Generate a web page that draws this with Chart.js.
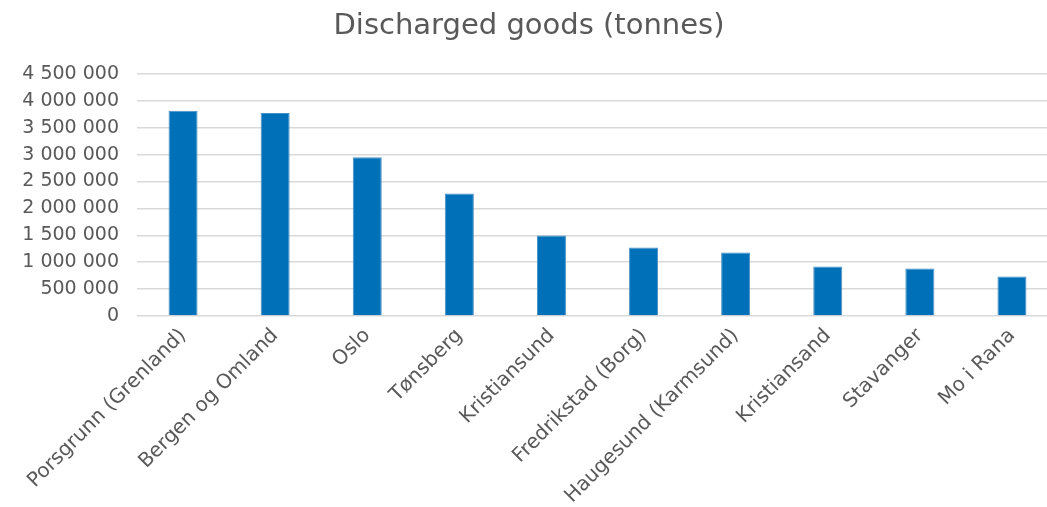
<!DOCTYPE html>
<html lang="en">
<head>
  <meta charset="UTF-8">
  <title>Discharged goods</title>
  <style>
    html, body { margin: 0; padding: 0; background: #fff; overflow: hidden; }
    .chart-container { width: 1082px; height: 507px; }
  </style>
</head>
<body>
  <div class="chart-container">
    <canvas id="myChart"></canvas>
  </div>

  <script src="https://cdn.jsdelivr.net/npm/chart.js"></script>
  <script>
    const ports = [
      'Porsgrunn (Grenland)', 'Bergen og Omland', 'Oslo', 'Tønsberg', 'Kristiansund',
      'Fredrikstad (Borg)', 'Haugesund (Karmsund)', 'Kristiansand', 'Stavanger', 'Mo i Rana'
    ];
    const discharged = [3817000, 3775000, 2950000, 2280000, 1497000, 1274000, 1180000, 920000, 883000, 734000];
    const yTicks = [0, 500000, 1000000, 1500000, 2000000, 2500000, 3000000, 3500000, 4000000, 4500000];

    const textColor = '#595959';
    const fontFamily = '"DejaVu Sans", sans-serif';

    // Space as thousands separator, as in the original.
    const fmt = v => String(v).replace(/\B(?=(\d{3})+(?!\d))/g, ' ');

    const ctx = document.querySelector('#myChart');
    new Chart(ctx, {
      type: 'bar',
      data: {
        labels: ports,
        datasets: [{
          label: 'Discharged goods (tonnes)',
          data: discharged,
          backgroundColor: '#0070B8',
          borderColor: '#4a90c8',
          borderWidth: 1,
          categoryPercentage: 1,
          barPercentage: 0.315
        }]
      },
      options: {
        responsive: true,
        maintainAspectRatio: false,
        animation: false,
        // canvas is wider than the window so the plot runs off the right edge like the original
        layout: { padding: { left: 0, right: 24, top: 0, bottom: 0 } },
        plugins: {
          legend: { display: false },
          tooltip: { enabled: false },
          title: {
            display: true,
            text: 'Discharged goods (tonnes)',
            color: textColor,
            font: { family: fontFamily, size: 29, weight: 'normal', lineHeight: 1.2 },
            padding: { top: 9, bottom: 30.2 }
          }
        },
        scales: {
          x: {
            grid: { display: false, drawTicks: false },
            border: { display: false },
            ticks: {
              color: textColor,
              font: { family: fontFamily, size: 20 },
              maxRotation: 45,
              minRotation: 45,
              autoSkip: false,
              padding: 8
            },
            afterFit: scale => { scale.height = 191; }
          },
          y: {
            min: 0,
            max: 4500000,
            afterBuildTicks: scale => { scale.ticks = yTicks.map(v => ({ value: v })); },
            grid: { color: '#d9d9d9', lineWidth: 1.5, drawTicks: false },
            border: { display: false },
            ticks: {
              color: textColor,
              font: { family: fontFamily, size: 19 },
              padding: 18,
              callback: v => fmt(v)
            },
            afterFit: scale => { scale.width = 137; }
          }
        }
      }
    });
  </script>
</body>
</html>
